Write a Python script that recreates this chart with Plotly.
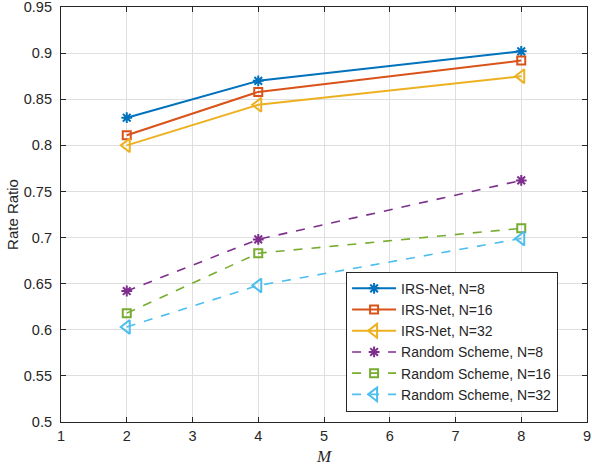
import plotly.graph_objects as go

M = [2, 4, 8]
irs_n8 = [0.830, 0.870, 0.902]
irs_n16 = [0.811, 0.858, 0.892]
irs_n32 = [0.800, 0.844, 0.875]
rnd_n8 = [0.642, 0.698, 0.762]
rnd_n16 = [0.618, 0.683, 0.710]
rnd_n32 = [0.603, 0.648, 0.699]

x_ticks = [1, 2, 3, 4, 5, 6, 7, 8, 9]
y_ticks = [0.5, 0.55, 0.6, 0.65, 0.7, 0.75, 0.8, 0.85, 0.9, 0.95]
y_ticktext = ["0.5", "0.55", "0.6", "0.65", "0.7", "0.75", "0.8", "0.85", "0.9", "0.95"]

series = [
    ("IRS-Net, N=8", irs_n8, "#0072BD", "asterisk-open", "solid", 2),
    ("IRS-Net, N=16", irs_n16, "#D95319", "square-open", "solid", 2),
    ("IRS-Net, N=32", irs_n32, "#EDB120", "triangle-left-open", "solid", 2),
    ("Random Scheme, N=8", rnd_n8, "#7E2F8E", "asterisk-open", "dash", 1.6),
    ("Random Scheme, N=16", rnd_n16, "#77AC30", "square-open", "dash", 1.6),
    ("Random Scheme, N=32", rnd_n32, "#4DBEEE", "triangle-left-open", "dash", 1.6),
]

fig = go.Figure()
for name, ys, col, sym, dash, lw in series:
    size = 12 if "triangle" in sym else (9 if "asterisk" in sym else 8)
    fig.add_trace(go.Scatter(
        x=M, y=ys, name=name, mode="lines+markers",
        line=dict(color=col, width=lw, dash=dash),
        marker=dict(symbol=sym, size=size, color=col, line=dict(color=col, width=2)),
    ))

FONT = "Liberation Sans, Arial, sans-serif"
axis_common = dict(
    showline=True, linecolor="#262626", linewidth=1.2, mirror="allticks",
    ticks="inside", ticklen=5, tickcolor="#262626",
    showgrid=True, gridcolor="#DFDFDF", gridwidth=1, zeroline=False,
    automargin=False, ticklabeloverflow="allow",
    tickfont=dict(family=FONT, size=14.5, color="#262626"),
)

fig.update_layout(
    width=592, height=466,
    margin=dict(l=61, r=5, t=7, b=44),
    paper_bgcolor="white", plot_bgcolor="white",
    showlegend=True,
    legend=dict(
        x=0.542, y=0.362, xanchor="left", yanchor="top",
        bgcolor="white", bordercolor="#262626", borderwidth=1,
        font=dict(family=FONT, size=14, color="#262626"),
        tracegroupgap=0, itemwidth=44,
    ),
    xaxis=dict(range=[1, 9], tickmode="array", tickvals=x_ticks,
               title=dict(text="<i>M</i>", standoff=8,
                          font=dict(family="Liberation Serif, Times New Roman, serif", size=17, color="#262626")),
               **axis_common),
    yaxis=dict(range=[0.4999, 0.9501], tickmode="array", tickvals=y_ticks, ticktext=y_ticktext,
               ticklabelstandoff=5,
               title=dict(text="Rate Ratio", standoff=1,
                          font=dict(family=FONT, size=15, color="#262626")),
               **axis_common),
)

fig.write_html("out.html", config={"displayModeBar": False},
               post_script="document.body.style.margin='0px';document.body.style.overflow='hidden';")
